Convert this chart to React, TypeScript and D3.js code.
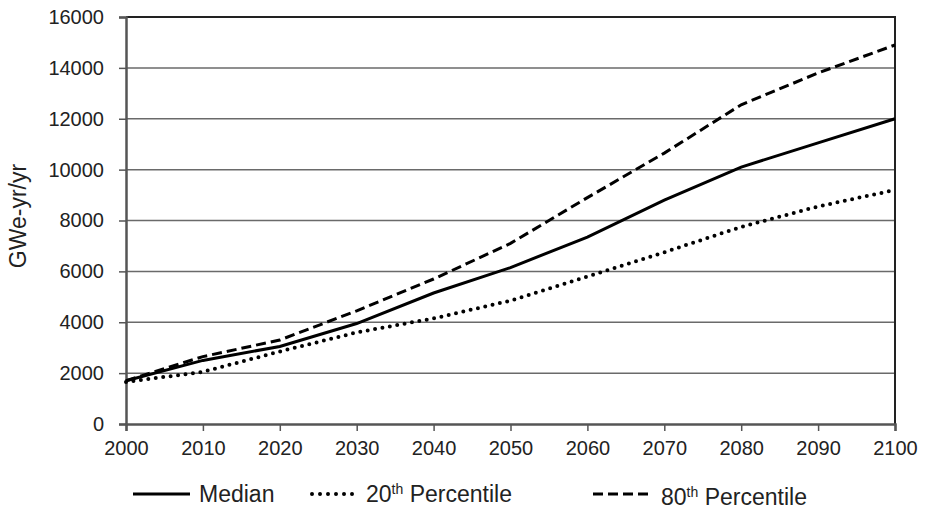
import React, { useEffect, useRef } from "react";
import * as d3 from "d3";

const years = [2000, 2010, 2020, 2030, 2040, 2050, 2060, 2070, 2080, 2090, 2100];
const median = [1700, 2500, 3050, 3950, 5150, 6150, 7350, 8800, 10100, 11050, 12000];
const p20 = [1650, 2050, 2850, 3600, 4150, 4850, 5800, 6750, 7750, 8550, 9200];
const p80 = [1700, 2650, 3300, 4450, 5700, 7100, 8900, 10650, 12550, 13800, 14900];
const yTicks = [0, 2000, 4000, 6000, 8000, 10000, 12000, 14000, 16000];

const FONT = "'Liberation Sans', Arial, sans-serif";

const App = () => {
  const ref = useRef<SVGSVGElement | null>(null);

  useEffect(() => {
    if (!ref.current) return;
    const svg = d3.select(ref.current);
    svg.selectAll("*").remove();

    const margin = { top: 17, right: 30, bottom: 85, left: 126 };
    const W = 925;
    const H = 509;
    const width = W - margin.left - margin.right;
    const height = H - margin.top - margin.bottom;

    const g = svg.append("g").attr("transform", `translate(${margin.left},${margin.top})`);

    const x = d3.scaleLinear().domain([2000, 2100]).range([0, width]);
    const y = d3.scaleLinear().domain([0, 16000]).range([height, 0]);

    // gridlines
    g.append("g")
      .selectAll("line")
      .data(yTicks.slice(1, -1))
      .join("line")
      .attr("x1", 0)
      .attr("x2", width)
      .attr("y1", d => y(d))
      .attr("y2", d => y(d))
      .attr("stroke", "#6a6a6a")
      .attr("stroke-width", 1.5);

    // top + right border
    g.append("path")
      .attr("d", `M0,${y(16000)}H${width}V${height}`)
      .attr("fill", "none")
      .attr("stroke", "#222")
      .attr("stroke-width", 2);

    // axes
    const yAxis = g.append("g").call(
      d3.axisLeft(y).tickValues(yTicks).tickSize(7).tickPadding(15).tickFormat(d => `${d}`)
    );
    const xAxis = g
      .append("g")
      .attr("transform", `translate(0,${height})`)
      .call(d3.axisBottom(x).tickValues(years).tickSize(7).tickPadding(10).tickFormat(d => `${d}`));

    [yAxis, xAxis].forEach(a => {
      a.select(".domain").attr("stroke", "#555").attr("stroke-width", 2.5);
      a.selectAll(".tick line").attr("stroke", "#555").attr("stroke-width", 1.5);
      a.selectAll("text")
        .attr("fill", "#222")
        .style("font-family", FONT)
        .style("font-size", "20px");
    });

    const line = d3
      .line<number>()
      .x((_, i) => x(years[i]))
      .y(d => y(d));

    const series = [
      { name: "median", values: median, dash: null, width: 3, cap: "butt" },
      { name: "p20", values: p20, dash: "0 7.5", width: 4, cap: "round" },
      { name: "p80", values: p80, dash: "10 5", width: 3, cap: "butt" },
    ];

    series.forEach(s => {
      g.append("path")
        .datum(s.values)
        .attr("fill", "none")
        .attr("stroke", "#000")
        .attr("stroke-width", s.width)
        .attr("stroke-linecap", s.cap)
        .attr("stroke-dasharray", s.dash)
        .attr("d", line);
    });

    // y axis label
    svg
      .append("text")
      .attr("transform", `translate(26,216) rotate(-90)`)
      .attr("text-anchor", "middle")
      .attr("fill", "#222")
      .style("font-family", FONT)
      .style("font-size", "23px")
      .text("GWe-yr/yr");

    // legend
    const legend = svg.append("g");
    const items = [
      { x1: 133, x2: 190, tx: 199, ty: 502, dash: null, w: 3, cap: "butt", label: "Median", sup: null, rest: null },
      { x1: 312, x2: 358, tx: 366, ty: 502, dash: "0 8", w: 4, cap: "round", label: "20", sup: "th", rest: " Percentile" },
      { x1: 593, x2: 648, tx: 661, ty: 505, dash: "10 5", w: 3, cap: "butt", label: "80", sup: "th", rest: " Percentile" },
    ];
    items.forEach(it => {
      legend
        .append("line")
        .attr("x1", it.x1)
        .attr("x2", it.x2)
        .attr("y1", 494)
        .attr("y2", 494)
        .attr("stroke", "#000")
        .attr("stroke-width", it.w)
        .attr("stroke-linecap", it.cap)
        .attr("stroke-dasharray", it.dash);
      const t = legend
        .append("text")
        .attr("x", it.tx)
        .attr("y", it.ty)
        .attr("fill", "#222")
        .style("font-family", FONT)
        .style("font-size", "23px")
        .text(it.label);
      if (it.sup) {
        t.append("tspan").attr("dy", -8).style("font-size", "14px").text(it.sup);
        t.append("tspan").attr("dy", 8).text(it.rest);
      }
    });
  }, []);

  return (
    <svg
      ref={ref}
      width={925}
      height={509}
      style={{ position: "absolute", left: 0, top: 0, background: "#fff" }}
    />
  );
};

export default App;
